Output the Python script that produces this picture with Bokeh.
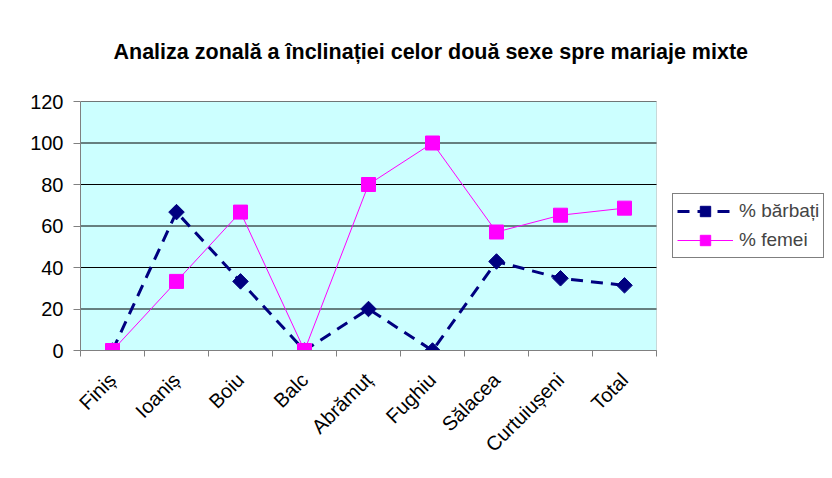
import math
from bokeh.plotting import figure
from bokeh.models import (ColumnDataSource, Range1d, LinearAxis, BoxAnnotation,
                          FixedTicker, Legend, LegendItem, Title)
from bokeh.embed import file_html
from bokeh.resources import INLINE

categories = ["Finiș", "Ioaniș", "Boiu", "Balc", "Abrămuț", "Fughiu", "Sălacea", "Curtuiușeni", "Total"]
barbati = [0, 66.7, 33.3, 0, 20, 0, 42.9, 34.8, 31.4]
femei = [0, 33.3, 66.7, 0, 80, 100, 57.1, 65.2, 68.6]
y_ticks = [0, 20, 40, 60, 80, 100, 120]
title_text = "Analiza zonală a înclinației celor două sexe spre mariaje mixte"
FONT = "Liberation Sans"

n = len(categories)
centers = [i + 0.5 for i in range(n)]
src = ColumnDataSource(dict(x=centers, cat=categories, b=barbati, f=femei))

# plot area occupies 576px of the 752px frame; the rest hosts the legend
p = figure(width=832, height=478, output_backend="svg", toolbar_location=None,
           x_range=Range1d(0, n * 752 / 576), y_range=Range1d(0, 120),
           x_axis_location=None, y_axis_location=None,
           min_border_left=80, min_border_right=0, min_border_top=101, min_border_bottom=128)

p.background_fill_color = "white"
p.border_fill_color = "white"
p.outline_line_color = None
p.xgrid.grid_line_color = None
p.ygrid.grid_line_color = None

area = BoxAnnotation(left=0, right=n, bottom=0, top=120, fill_color="#CCFFFF", fill_alpha=1,
                     line_color="#808080", line_width=1, level="image")
p.add_layout(area)

grid_xs = [[0, n] for _ in y_ticks]
grid_ys = [[v, v] for v in y_ticks]
p.multi_line(grid_xs, grid_ys, line_color="black", line_width=1, level="underlay")

# y axis
yax = LinearAxis(ticker=FixedTicker(ticks=y_ticks))
yax.axis_line_color = "#808080"
yax.major_tick_line_color = "#808080"
yax.major_tick_in = 0
yax.major_tick_out = 7
yax.minor_tick_line_color = None
yax.major_label_text_font = FONT
yax.major_label_text_font_size = "20px"
yax.major_label_text_color = "black"
yax.major_label_standoff = 10
p.add_layout(yax, "left")

# x tick marks between categories
xt = LinearAxis(ticker=FixedTicker(ticks=list(range(n + 1))), bounds=(0, n))
xt.axis_line_color = "#808080"
xt.major_tick_line_color = "#808080"
xt.major_tick_in = 0
xt.major_tick_out = 6
xt.minor_tick_line_color = None
xt.major_label_text_font_size = "1px"
xt.major_label_text_alpha = 0
xt.major_label_standoff = 0
p.add_layout(xt, "below")

# category labels
xl = LinearAxis(ticker=FixedTicker(ticks=centers),
                major_label_overrides={c: name for c, name in zip(centers, categories)})
xl.axis_line_color = None
xl.major_tick_line_color = None
xl.minor_tick_line_color = None
xl.major_label_orientation = math.pi / 4
xl.major_label_text_font = FONT
xl.major_label_text_font_size = "20px"
xl.major_label_text_color = "black"
xl.major_label_standoff = 14
p.add_layout(xl, "below")

t = Title(text=title_text, align="left", offset=33, text_font=FONT,
          text_font_size="21.5px", text_font_style="bold", text_color="black", standoff=75)
p.add_layout(t, "above")

lb = p.line("x", "b", source=src, line_color="#000080", line_width=3, line_dash="12 8")
sb = p.scatter("x", "b", source=src, marker="square", angle=math.pi / 4, size=11,
               fill_color="#000080", line_color="#000080")
lf = p.line("x", "f", source=src, line_color="#FF00FF", line_width=1)
sf = p.scatter("x", "f", source=src, marker="square", size=14, fill_color="#FF00FF", line_color="#FF00FF")

legend = Legend(items=[LegendItem(label="% bărbați", renderers=[lb, sb]),
                       LegendItem(label="% femei", renderers=[lf, sf])],
                location=(592, 92), label_text_font=FONT, label_text_font_size="19px",
                glyph_width=56, glyph_height=26, spacing=3, padding=4, margin=0,
                border_line_color="black", background_fill_color="white", label_standoff=6)
p.add_layout(legend, "center")

open("out.html", "w").write(file_html(p, INLINE))
